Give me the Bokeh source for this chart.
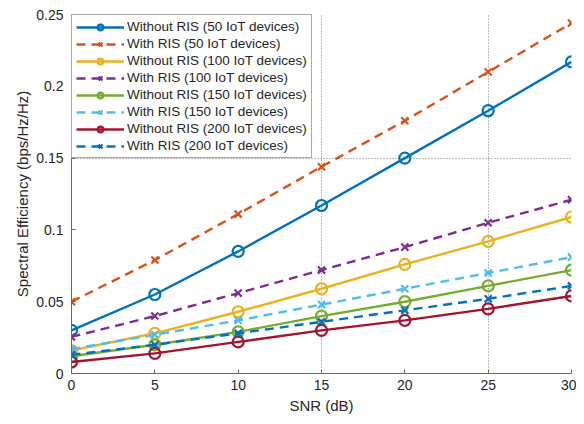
from bokeh.plotting import figure
from bokeh.models import Range1d, FixedTicker, PrintfTickFormatter, Legend, LegendItem
from bokeh.embed import file_html
from bokeh.resources import INLINE

snr = [0, 5, 10, 15, 20, 25, 30]

wo_50 = [0.030, 0.055, 0.085, 0.117, 0.150, 0.183, 0.217]
w_50 = [0.050, 0.079, 0.111, 0.144, 0.176, 0.210, 0.244]
wo_100 = [0.016, 0.028, 0.043, 0.059, 0.076, 0.092, 0.109]
w_100 = [0.0255, 0.040, 0.056, 0.072, 0.088, 0.105, 0.121]
wo_150 = [0.012, 0.020, 0.029, 0.040, 0.050, 0.061, 0.072]
w_150 = [0.017, 0.027, 0.037, 0.048, 0.059, 0.070, 0.081]
wo_200 = [0.008, 0.014, 0.022, 0.030, 0.037, 0.045, 0.054]
w_200 = [0.013, 0.020, 0.028, 0.036, 0.044, 0.052, 0.061]

labels = [
    "Without RIS (50 IoT devices)",
    "With RIS (50 IoT devices)",
    "Without RIS (100 IoT devices)",
    "With RIS (100 IoT devices)",
    "Without RIS (150 IoT devices)",
    "With RIS (150 IoT devices)",
    "Without RIS (200 IoT devices)",
    "With RIS (200 IoT devices)",
]
series = [wo_50, w_50, wo_100, w_100, wo_150, w_150, wo_200, w_200]
colors = ["#0072BD", "#D95319", "#EDB120", "#7E2F8E", "#77AC30", "#4DBEEE", "#A2142F", "#0072BD"]
with_ris = [False, True, False, True, False, True, False, True]

x_ticks = [0, 5, 10, 15, 20, 25, 30]
y_ticks = [0, 0.05, 0.1, 0.15, 0.2, 0.25]

p = figure(width=576, height=416, output_backend="svg", toolbar_location=None,
           x_range=Range1d(0, 30), y_range=Range1d(0, 0.25),
           min_border_left=71, min_border_right=5, min_border_top=14, min_border_bottom=39)
p.outline_line_color = None

font = "Liberation Sans"
p.xaxis.ticker = FixedTicker(ticks=x_ticks)
p.yaxis.ticker = FixedTicker(ticks=y_ticks)
p.yaxis.formatter = PrintfTickFormatter(format="%g")
for ax in (p.xaxis[0], p.yaxis[0]):
    ax.axis_line_color = "#666666"
    ax.major_tick_line_color = "#666666"
    ax.major_tick_in = 4
    ax.major_tick_out = 0
    ax.minor_tick_line_color = None
    ax.major_label_text_font = font
    ax.major_label_text_font_size = "14px"
    ax.major_label_text_color = "#262626"
    ax.axis_label_text_font = font
    ax.axis_label_text_font_size = "15px"
    ax.axis_label_text_font_style = "normal"
    ax.axis_label_text_color = "#262626"
p.xaxis.axis_label = "SNR (dB)"
p.yaxis.axis_label = "Spectral Efficiency (bps/Hz/Hz)"
p.xaxis.axis_label_standoff = 4
p.yaxis.axis_label_standoff = 2
p.xaxis.major_label_standoff = 6
p.yaxis.major_label_standoff = 8

p.xgrid.ticker = FixedTicker(ticks=[15, 25, 30])
p.ygrid.ticker = FixedTicker(ticks=[0.15, 0.25])
for g in (p.xgrid[0], p.ygrid[0]):
    g.grid_line_color = "#777777"
    g.grid_line_dash = "1 2"
    g.grid_line_width = 1

items = []
for lab, ys, c, w in zip(labels, series, colors, with_ris):
    if w:
        r1 = p.line(snr, ys, line_color=c, line_width=2.4, line_dash="9 6")
        r2 = p.scatter(snr, ys, marker="x", size=10, line_color=c, line_width=2.2)
    else:
        r1 = p.line(snr, ys, line_color=c, line_width=2.4)
        r2 = p.scatter(snr, ys, marker="circle", size=11, line_color=c, line_width=2.2,
                       fill_color=None)
    items.append(LegendItem(label=lab, renderers=[r1, r2]))

legend = Legend(items=items, location="top_left")
legend.margin = 0
legend.padding = 4
legend.spacing = 2
legend.glyph_width = 48
legend.glyph_height = 14
legend.label_height = 14
legend.label_standoff = 3
legend.label_text_font = font
legend.label_text_font_size = "13.5px"
legend.label_text_color = "#262626"
legend.border_line_color = "#555555"
legend.border_line_width = 1
legend.background_fill_color = "white"
legend.background_fill_alpha = 1
p.add_layout(legend)

open("out.html", "w").write(file_html(p, INLINE))
